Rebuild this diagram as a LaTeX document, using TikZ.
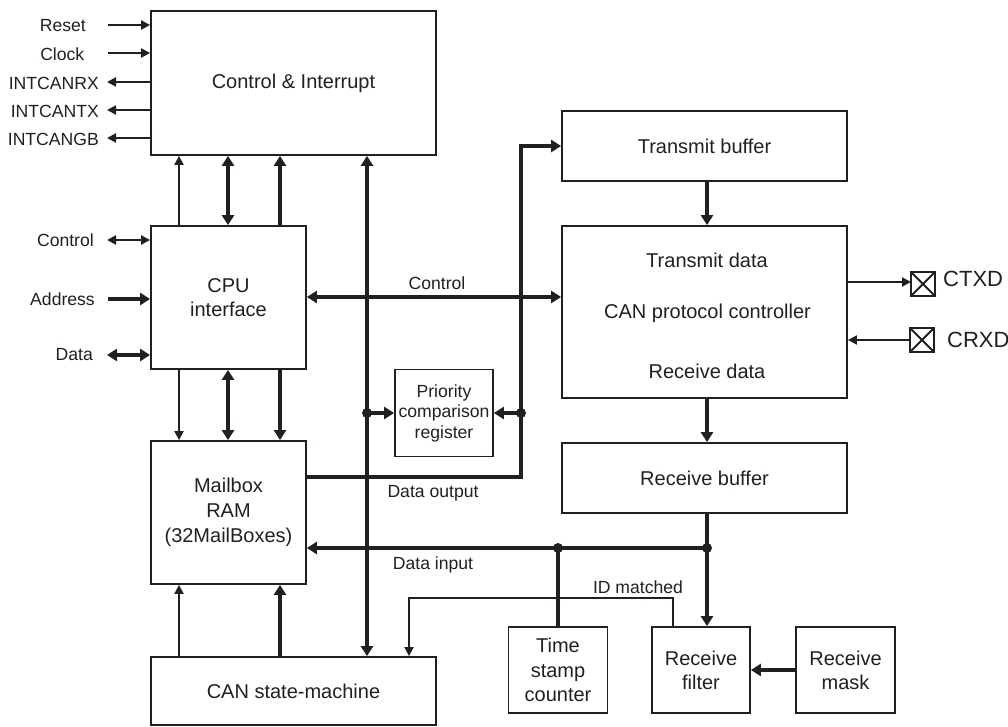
\documentclass[tikz,border=0pt]{standalone}
\usepackage{fontspec}
\setmainfont{Liberation Sans}
\usetikzlibrary{arrows.meta}
\definecolor{ink}{HTML}{231F20}
\newcommand\myBig{\fontsize{20}{24}\selectfont}
\newcommand\mySmall{\fontsize{17.6}{20.5}\selectfont}
\newcommand\myPad{\fontsize{22}{26}\selectfont}
\begin{document}
\begin{tikzpicture}[x=1pt,y=-1pt,
  box/.style={draw=ink, line width=1.8pt, inner sep=0pt, align=center, font=\myBig, text=ink},
  bigtxt/.style={inner sep=0pt, font=\myBig, text=ink},
  lbl/.style={inner sep=0pt, font=\mySmall, text=ink, align=center},
  padtxt/.style={inner sep=0pt, font=\myPad, text=ink, anchor=west},
  padbox/.style={draw=ink, line width=1.8pt, minimum size=24pt, inner sep=0pt, outer sep=0pt},
  dot/.style={circle, fill=ink, minimum size=10pt, inner sep=0pt},
  lnA/.style={draw=ink, line width=2pt},
  lnB/.style={draw=ink, line width=4.2pt},
  lnC/.style={draw=ink, line width=2.6pt},
  tA/.style={-{Triangle[length=9pt,width=9pt]}},
  tAA/.style={{Triangle[length=9pt,width=9pt]}-{Triangle[length=9pt,width=9pt]}},
  tB/.style={-{Triangle[length=10pt,width=12pt]}},
  tBB/.style={{Triangle[length=10pt,width=12pt]}-{Triangle[length=10pt,width=12pt]}}
]
\useasboundingbox (0,0) rectangle (1008,727);

% blocks
\node[box, minimum width=285pt, minimum height=144pt] (ci) at (293.5,83) {Control \& Interrupt};
\node[box, minimum width=155pt, minimum height=143pt] (cpu) at (228.5,297.5) {CPU\\interface};
\node[box, minimum width=155pt, minimum height=143pt, font=\fontsize{20}{25}\selectfont] (mb) at (228.5,512.5) {Mailbox\\RAM\\(32MailBoxes)};
\node[box, minimum width=285pt, minimum height=68pt] (sm) at (293.5,691) {CAN state-machine};
\node[box, minimum width=98pt, minimum height=87pt, font=\mySmall] (pcr) at (444,413) {Priority\\comparison\\register};
\node[box, minimum width=285pt, minimum height=70pt] (tb) at (704.5,146) {Transmit buffer};
\node[box, minimum width=285pt, minimum height=172pt] (cpc) at (704.5,312) {};
\node[bigtxt] (t1) at (707,260) {Transmit data};
\node[bigtxt] (t2) at (707.5,313) {CAN protocol controller};
\node[bigtxt] (t3) at (707,371) {Receive data};
\node[box, minimum width=285pt, minimum height=70pt] (rb) at (704.5,478) {Receive buffer};
\node[box, minimum width=99pt, minimum height=86pt, font=\fontsize{20}{24.5}\selectfont] (ts) at (558,670) {Time\\stamp\\counter};
\node[box, minimum width=98pt, minimum height=86pt] (rf) at (701,670) {Receive\\filter};
\node[box, minimum width=99pt, minimum height=86pt] (rm) at (845.5,670) {Receive\\mask};

% pads
\node[padbox] (txb) at (923,284) {};
\draw[lnA] (txb.north west) -- (txb.south east) (txb.north east) -- (txb.south west);
\node[padbox] (rxb) at (922,340) {};
\draw[lnA] (rxb.north west) -- (rxb.south east) (rxb.north east) -- (rxb.south west);
\node[padtxt] (ltx) at (943,279) {CTXD};
\node[padtxt] (lrx) at (947,340) {CRXD};

% left side signals
\coordinate (pReset) at (108,25);
\draw[lnA,tA] (pReset) -- (pReset -| ci.west);
\node[lbl,anchor=east] (lReset) at (86,26) {Reset};
\coordinate (pClock) at (108,53);
\draw[lnA,tA] (pClock) -- (pClock -| ci.west);
\node[lbl,anchor=east] (lClock) at (84.5,54) {Clock};
\coordinate (pRx) at (107,82);
\draw[lnA,tA] (pRx -| ci.west) -- (pRx);
\node[lbl,anchor=east] (lRx) at (99,83) {INTCANRX};
\coordinate (pTx) at (107,110);
\draw[lnA,tA] (pTx -| ci.west) -- (pTx);
\node[lbl,anchor=east] (lTx) at (99,111) {INTCANTX};
\coordinate (pGb) at (107,138);
\draw[lnA,tA] (pGb -| ci.west) -- (pGb);
\node[lbl,anchor=east] (lGb) at (99,139) {INTCANGB};

\coordinate (pCtl) at (107,240);
\draw[lnC,tAA] (pCtl) -- (pCtl -| cpu.west);
\node[lbl,anchor=east] (lCtl) at (94,240) {Control};
\coordinate (pAdr) at (108,299);
\draw[lnB,tB] (pAdr) -- (pAdr -| cpu.west);
\node[lbl,anchor=east] (lAdr) at (95,299) {Address};
\coordinate (pDat) at (107,355);
\draw[lnB,tBB] (pDat) -- (pDat -| cpu.west);
\node[lbl,anchor=east] (lDat) at (93,355) {Data};

% vertical links on the left column
\coordinate (c1) at (179,0);
\coordinate (c2) at (228,0);
\coordinate (c3) at (280,0);
\draw[lnA,tA] (c1 |- cpu.north) -- (c1 |- ci.south);
\draw[lnB,tBB] (c2 |- cpu.north) -- (c2 |- ci.south);
\draw[lnB,tB] (c3 |- cpu.north) -- (c3 |- ci.south);
\draw[lnA,tA] (c1 |- cpu.south) -- (c1 |- mb.north);
\draw[lnB,tBB] (c2 |- cpu.south) -- (c2 |- mb.north);
\draw[lnB,tB] (c3 |- cpu.south) -- (c3 |- mb.north);
\draw[lnA,tA] (c1 |- sm.north) -- (c1 |- mb.south);
\draw[lnB,tB] (c3 |- sm.north) -- (c3 |- mb.south);

% main bus
\coordinate (bus) at (367,0);
\draw[lnB,tBB] (bus |- ci.south) -- (bus |- sm.north);

% control bus
\coordinate (ctl) at (0,297);
\draw[lnB,tBB] (cpu.east |- ctl) -- (cpc.west |- ctl);
\node[lbl] (lControl) at (437,283) {Control};

% data output
\coordinate (do1) at (521,477);
\coordinate (do2) at (521,146);
\draw[lnB,tB] (mb.east |- do1) -- (do1) -- (do2) -- (tb.west |- do2);
\node[lbl] (lDo) at (433,493) {Data output};

% priority comparison
\node[dot] (pd1) at (367,413) {};
\node[dot] (pd2) at (521,413) {};
\draw[lnB,tB] (pd1.center) -- (pcr.west);
\draw[lnB,tB] (pd2.center) -- (pcr.east);

% right column
\coordinate (col) at (707,0);
\draw[lnB,tB] (col |- tb.south) -- (col |- cpc.north);
\draw[lnB,tB] (col |- cpc.south) -- (col |- rb.north);
\draw[lnB,tB] (col |- rb.south) -- (col |- rf.north);

% data input
\node[dot] (dd1) at (707,548) {};
\node[dot] (dd2) at (558,548) {};
\draw[lnB,tB] (dd1.center) -- (mb.east |- dd1);
\draw[lnB] (dd2.center) -- (ts.north);
\node[lbl] (lDi) at (433,565) {Data input};

% ID matched
\coordinate (id1) at (673,598);
\coordinate (id2) at (409,598);
\draw[lnA,tA] (rf.north -| id1) -- (id1) -- (id2) -- (id2 |- sm.north);
\node[lbl] (lId) at (638,587) {ID matched};

% mask to filter
\draw[lnB,tB] (rm.west) -- (rf.east);

% CAN pins
\coordinate (tx) at (0,282);
\draw[lnA,tA] (cpc.east |- tx) -- (txb.west |- tx);
\draw[lnA,tA] (rxb.west) -- (cpc.east |- rxb.west);
\end{tikzpicture}
\end{document}
